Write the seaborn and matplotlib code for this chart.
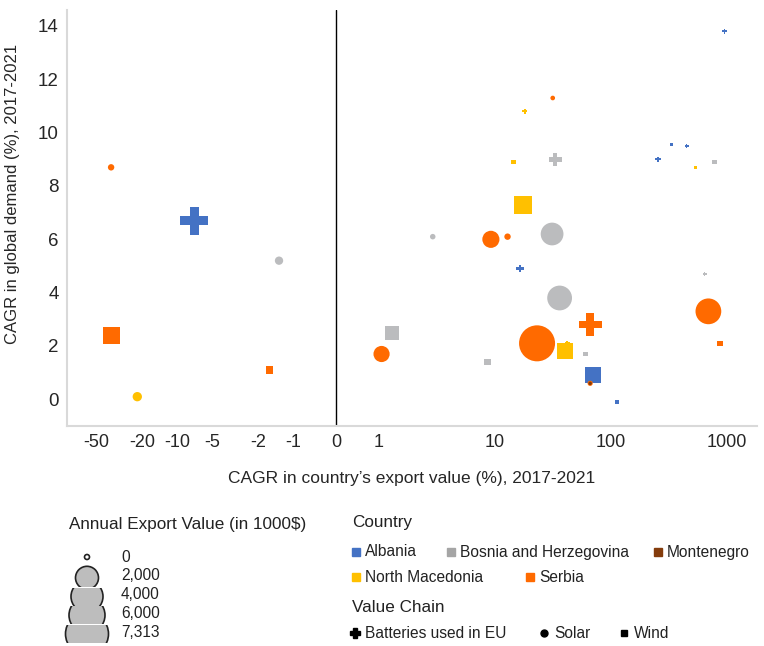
import numpy as np
import pandas as pd
import matplotlib
matplotlib.use("Agg")
import matplotlib.pyplot as plt
from matplotlib.patches import Circle, Rectangle
import seaborn as sns

# data
countries = (["Albania"] * 8 + ["Bosnia and Herzegovina"] * 10 + ["North Macedonia"] * 7
             + ["Serbia"] * 12 + ["Montenegro"])
chains = [
    # Albania
    "Batteries used in EU", "Batteries used in EU", "Batteries used in EU", "Wind",
    "Batteries used in EU", "Batteries used in EU", "Wind", "Wind",
    # Bosnia and Herzegovina
    "Solar", "Batteries used in EU", "Wind", "Solar", "Solar",
    "Batteries used in EU", "Solar", "Wind", "Wind", "Wind",
    # North Macedonia
    "Solar", "Batteries used in EU", "Wind", "Wind", "Wind", "Wind", "Batteries used in EU",
    # Serbia
    "Solar", "Wind", "Wind", "Solar", "Solar", "Solar",
    "Solar", "Batteries used in EU", "Solar", "Solar", "Wind", "Solar",
    # Montenegro
    "Solar",
]
export_cagr = [
    -7.1, 950, 255, 333, 450, 16.4, 70, 113,
    -1.32, 33, 780, 31, 2.9, 640, 36, 1.3, 8.6, 60,
    -22, 18, 14.5, 536, 17.3, 40, 42,
    -37, -37, -1.6, 31.4, 9.2, 12.8, 690, 66, 1.05, 23, 873, 66,
    66,
]
demand_cagr = [
    6.7, 13.8, 9.0, 9.55, 9.5, 4.9, 0.9, -0.1,
    5.2, 9.0, 8.9, 6.2, 6.1, 4.7, 3.8, 2.5, 1.4, 1.7,
    0.1, 10.8, 8.9, 8.7, 7.3, 1.8, 2.1,
    8.7, 2.4, 1.1, 11.3, 6.0, 6.1, 3.3, 2.8, 1.7, 2.1, 2.1, 0.6,
    0.6,
]
export_value = [
    4400, 140, 140, 35, 50, 280, 1450, 50,
    360, 950, 90, 2900, 140, 50, 3450, 1100, 200, 90,
    460, 140, 90, 25, 1830, 1450, 140,
    200, 1630, 280, 90, 1630, 200, 3730, 2900, 1450, 7313, 140, 120,
    35,
]

country_colors = {
    "Albania": "#4472C4",
    "Bosnia and Herzegovina": "#BBBCBE",
    "Montenegro": "#843C0C",
    "North Macedonia": "#FFC000",
    "Serbia": "#FF6A00",
}
country_swatch = dict(country_colors, **{"Bosnia and Herzegovina": "#A5A5A5"})
chain_markers = {"Batteries used in EU": "P", "Solar": "o", "Wind": "s"}

size_ticks = [0, 2000, 4000, 6000, 7313]

df = pd.DataFrame({
    "country": countries,
    "chain": chains,
    "export_cagr": export_cagr,
    "demand_cagr": demand_cagr,
    "value": export_value,
})

sns.set_style("white")
plt.rcParams["font.family"] = ["Liberation Sans", "DejaVu Sans"]

fig = plt.figure(figsize=(7.64, 6.46), dpi=100)
ax = fig.add_axes([67 / 764, 1 - 426 / 646, 690 / 764, 416 / 646])

sns.scatterplot(
    data=df, x="export_cagr", y="demand_cagr",
    hue="country", palette=country_colors,
    style="chain", markers=chain_markers,
    size="value", sizes=(3, 672), size_norm=(0, 7313),
    linewidth=0, alpha=1, legend=False, ax=ax,
)

ax.set_xscale("symlog", linthresh=1, linscale=0.334)
ax.set_xlim(-88.8, 1811)
ax.set_ylim(-1, 14.6)
xt = [-50, -20, -10, -5, -2, -1, 0, 1, 10, 100, 1000]
ax.set_xticks(xt)
ax.set_xticklabels([str(v) for v in xt], fontsize=13)
ax.xaxis.set_minor_locator(matplotlib.ticker.NullLocator())
ax.set_yticks(range(0, 15, 2))
ax.set_yticklabels([str(v) for v in range(0, 15, 2)], fontsize=13.5)
ax.tick_params(length=0, pad=6)
ax.axvline(0, color="black", linewidth=1)

for side in ["top", "right"]:
    ax.spines[side].set_visible(False)
for side in ["left", "bottom"]:
    ax.spines[side].set_color("#D9D9D9")
    ax.spines[side].set_linewidth(1.5)

ax.set_xlabel("CAGR in country\u2019s export value (%), 2017-2021", fontsize=12.5, labelpad=14)
ax.set_ylabel("CAGR in global demand (%), 2017-2021", fontsize=12)
ax.yaxis.set_label_coords(-0.068, 0.558)

# legends drawn on an overlay in pixel coordinates
lax = fig.add_axes([0, 0, 1, 1])
lax.set_xlim(0, 764)
lax.set_ylim(646, 0)
lax.axis("off")

txt = dict(fontsize=11.2, va="center", color="#222222")
ttl = dict(fontsize=12.3, va="center", color="#222222")

# export value bubbles, each clipped to its own row
lax.text(69, 524, "Annual Export Value (in 1000$)", ha="left", **ttl)
lax.add_patch(Circle((87, 557), 2.5, facecolor="white", edgecolor="#222222", linewidth=1.2))
diam = [23, 32, 36, 43]
row_top = 568.5
for i, d in enumerate(diam):
    top = row_top + i * 18.7
    extra = 4 if i == 0 else 0
    band = Rectangle((40, top + 0.5 - extra), 100, 18.0 + extra, transform=lax.transData)
    c = Circle((87, top + 9.3), d / 2, facecolor="#BDBDBD", edgecolor="#222222", linewidth=1.2)
    lax.add_patch(c)
    c.set_clip_path(band)
for i, v in enumerate(size_ticks):
    lax.text(121, 557 + i * 18.8, f"{v:,}", ha="left", **txt)

# country legend
lax.text(352, 523, "Country", ha="left", **ttl)
country_pos = {
    "Albania": (356, 552), "Bosnia and Herzegovina": (451, 552), "Montenegro": (658, 552),
    "North Macedonia": (356, 577), "Serbia": (530, 577),
}
for name, (px, py) in country_pos.items():
    lax.add_patch(Rectangle((px - 4, py - 4), 8, 8, color=country_swatch[name]))
    lax.text(px + 9, py, name, ha="left", **txt)

# value chain legend
lax.text(352, 607, "Value Chain", ha="left", **ttl)
chain_pos = {"Batteries used in EU": 355, "Solar": 544, "Wind": 624}
chain_ms = {"Batteries used in EU": 6.5, "Solar": 5, "Wind": 5}
for name, px in chain_pos.items():
    lax.plot([px], [633], marker=chain_markers[name], color="black",
             markersize=chain_ms[name], linestyle="none")
    lax.text(px + 10, 633, name, ha="left", **txt)

fig.savefig("out.png", dpi=100)
